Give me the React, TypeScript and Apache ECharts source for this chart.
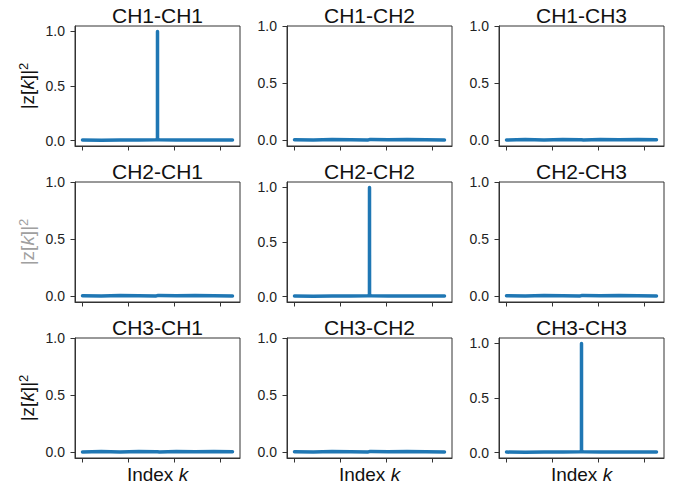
import React, { useEffect, useRef } from "react";
import * as echarts from "echarts";

const panelTitles = [
  "CH1-CH1", "CH1-CH2", "CH1-CH3",
  "CH2-CH1", "CH2-CH2", "CH2-CH3",
  "CH3-CH1", "CH3-CH2", "CH3-CH3",
];
const peakPanels = [0, 4, 8];
const kIndex = [0, 410, 820, 1230, 1600, 1638, 1639, 1640, 1680, 2050, 2460, 2870, 3278];
const peakValues = [0.004, 0.003, 0.006, 0.004, 0.008, 0.01, 1.0, 0.01, 0.008, 0.006, 0.004, 0.005, 0.004];
const crossValuesA = [0.003, 0.006, 0.003, 0.007, 0.004, 0.005, 0.006, 0.004, 0.003, 0.007, 0.004, 0.006, 0.004];
const crossValuesB = [0.005, 0.003, 0.007, 0.004, 0.003, 0.006, 0.004, 0.003, 0.006, 0.004, 0.007, 0.004, 0.003];
const xTickValues = [0, 1000, 2000, 3000];
const yTickValues = [0, 0.5, 1.0];
const xMin = -164;
const xMax = 3442;

const FONT = "'Liberation Sans', Arial, sans-serif";
const AXIS_COLOR = "#333";
const LINE_COLOR = "#1f77b4";

export default function App() {
  const ref = useRef<HTMLDivElement>(null);
  useEffect(() => {
    document.body.style.margin = "0";
    if (!ref.current) return;
    const chart = echarts.init(ref.current, undefined, { renderer: "svg" });
    const grids: any[] = [];
    const xAxes: any[] = [];
    const yAxes: any[] = [];
    const series: any[] = [];
    const graphics: any[] = [];
    for (let i = 0; i < 9; i++) {
      const r = Math.floor(i / 3);
      const c = i % 3;
      const left = 75 + c * 212;
      const top = 26 + r * 156;
      const isPeak = peakPanels.includes(i);
      grids.push({
        left, top, width: 165, height: 120,
        show: true, borderColor: AXIS_COLOR, borderWidth: 1, backgroundColor: "transparent",
      });
      xAxes.push({
        type: "value", gridIndex: i, min: xMin, max: xMax,
        axisLine: { show: true, onZero: false, lineStyle: { color: AXIS_COLOR, width: 1 } },
        axisTick: { show: true, customValues: xTickValues, length: 4.5, inside: false, lineStyle: { color: AXIS_COLOR } },
        axisLabel: { show: false },
        splitLine: { show: false },
      });
      yAxes.push({
        type: "value", gridIndex: i, min: -0.05, max: isPeak ? 1.05 : 1.0,
        axisLine: { show: true, onZero: false, lineStyle: { color: AXIS_COLOR, width: 1 } },
        axisTick: { show: true, customValues: yTickValues, length: 4.5, inside: false, lineStyle: { color: AXIS_COLOR } },
        axisLabel: {
          show: true, customValues: yTickValues, formatter: (v: number) => v.toFixed(1),
          fontSize: 14, fontFamily: FONT, color: "#222", margin: 10,
        },
        splitLine: { show: false },
      });
      const values = isPeak ? peakValues : (i % 2 === 0 ? crossValuesA : crossValuesB);
      series.push({
        type: "line", xAxisIndex: i, yAxisIndex: i,
        data: kIndex.map((k, j) => [k, values[j]]),
        symbol: "none", showSymbol: false,
        lineStyle: { width: 3.5, color: LINE_COLOR, cap: "round", join: "round" },
      });
      graphics.push({
        type: "text", x: left + 82.5, y: top - 11,
        style: { text: panelTitles[i], font: `21px ${FONT}`, fill: "#111", align: "center", verticalAlign: "middle" },
      });
      if (r === 2) {
        graphics.push({
          type: "text", x: left + 82.5, y: 474,
          style: {
            text: "Index {i|k}", font: `19px ${FONT}`, fill: "#111", align: "center", verticalAlign: "middle",
            rich: { i: { fontStyle: "italic", fontSize: 19, fontFamily: FONT, fill: "#111" } },
          },
        });
      }
      if (c === 0) {
        const col = r === 1 ? "#a0a0a0" : "#111";
        graphics.push({
          type: "text", x: 27, y: top + 60, rotation: Math.PI / 2,
          style: {
            text: "|z[{i|k}]|{s|2}", font: `19px ${FONT}`, fill: col, align: "center", verticalAlign: "middle",
            rich: {
              i: { fontStyle: "italic", fontSize: 19, fontFamily: FONT, fill: col },
              s: { fontSize: 13, fontFamily: FONT, fill: col, verticalAlign: "top", padding: [0, 0, 8, 0] },
            },
          },
        });
      }
    }
    chart.setOption({
      animation: false,
      backgroundColor: "#fff",
      grid: grids,
      xAxis: xAxes,
      yAxis: yAxes,
      series,
      graphic: graphics,
    });
    return () => chart.dispose();
  }, []);
  return <div ref={ref} style={{ width: 680, height: 487 }} />;
}
